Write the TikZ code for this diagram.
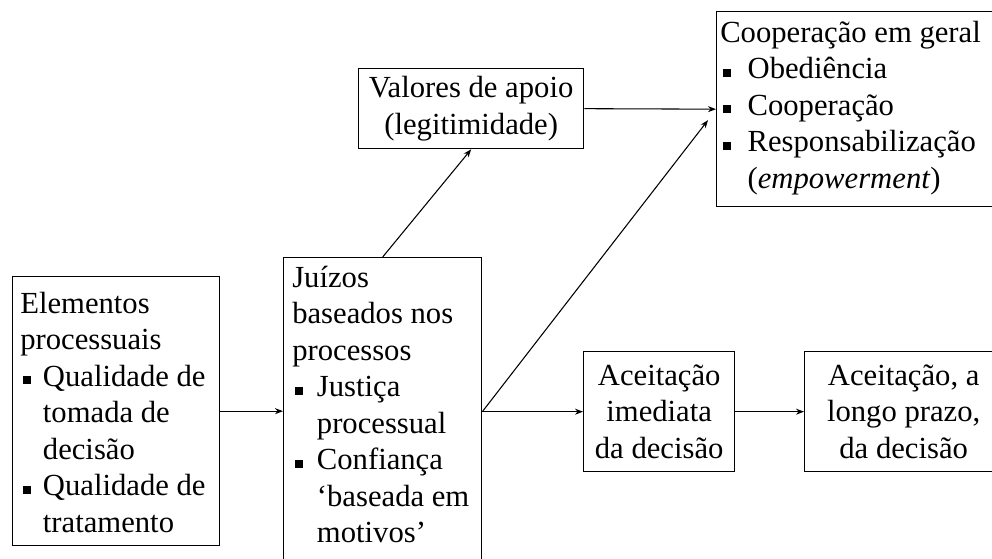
\documentclass[tikz,border=0pt]{standalone}
\usepackage{fontspec}
\setmainfont{Liberation Serif}
\usetikzlibrary{arrows.meta,calc}
\newcommand\mybul[1][17pt]{\makebox[#1][l]{\hspace{2pt}\raisebox{1.5pt}{\rule{6pt}{6pt}}}}
\newcommand\myind[1][17pt]{\hspace*{#1}}
\begin{document}
\begin{tikzpicture}[x=0.75pt,y=-0.75pt,
  box/.style={draw, line width=1pt, inner sep=0pt, anchor=north west},
  txt/.style={inner sep=0pt, anchor=base west, font=\fontsize{23}{27.4}\selectfont},
  ctxt/.style={font=\fontsize{23}{27.4}\selectfont, align=center},
  arr/.style={-{Stealth[length=6pt,width=4.5pt]}, line width=0.8pt}]
\clip (0,0) rectangle (992,558);
% boxes
\node[box, minimum width=155.25pt, minimum height=201.75pt] (el) at (12,276) {};
\node[box, minimum width=148.5pt, minimum height=300pt] (ju) at (283,257) {};
\node[box, ctxt, minimum width=168.75pt, minimum height=60pt] (va) at (358,68) {Valores de apoio\\(legitimidade)};
\node[box, minimum width=225pt, minimum height=146.25pt] (co) at (716,11) {};
\node[box, ctxt, minimum width=113.25pt, minimum height=90pt] (ai) at (583,351) {Aceitação\\imediata\\da decisão};
\node[box, ctxt, minimum width=148.5pt, minimum height=90pt] (al) at (804,351) {Aceitação, a\\longo prazo,\\da decisão};
% texts
\node[txt] (elt) at (20,313) {\begin{tabular}[t]{@{}l@{}}Elementos\\processuais\\\mybul Qualidade de\\\myind tomada de\\\myind decisão\\\mybul Qualidade de\\\myind tratamento\end{tabular}};
\node[txt] (jut) at (292,287) {\begin{tabular}[t]{@{}l@{}}Juízos\\baseados nos\\processos\\\mybul[18.5pt]Justiça\\\myind[18.5pt]processual\\\mybul[18.5pt]Confiança\\\myind[18.5pt]‘baseada em\\\myind[18.5pt]motivos’\end{tabular}};
\node[txt] (cot) at (720,42) {\begin{tabular}[t]{@{}l@{}}Cooperação em geral\\\mybul[20.5pt]Obediência\\\mybul[20.5pt]Cooperação\\\mybul[20.5pt]Responsabilização\\\myind[20.5pt](\textit{empowerment})\end{tabular}};
% connectors
\coordinate (jr) at (ju.east |- ai.west);
\draw[arr] (el.east) -- (el.east -| ju.west);
\draw[arr] (jr) -- (ai.west);
\draw[arr] (ai.east) -- (al.west);
\draw[arr] (ju.north) -- (va.south);
\draw[arr] (va.east) -- (co.west);
\draw[arr] (jr) -- ($(co.west)+(-8,11)$);
\end{tikzpicture}
\end{document}
